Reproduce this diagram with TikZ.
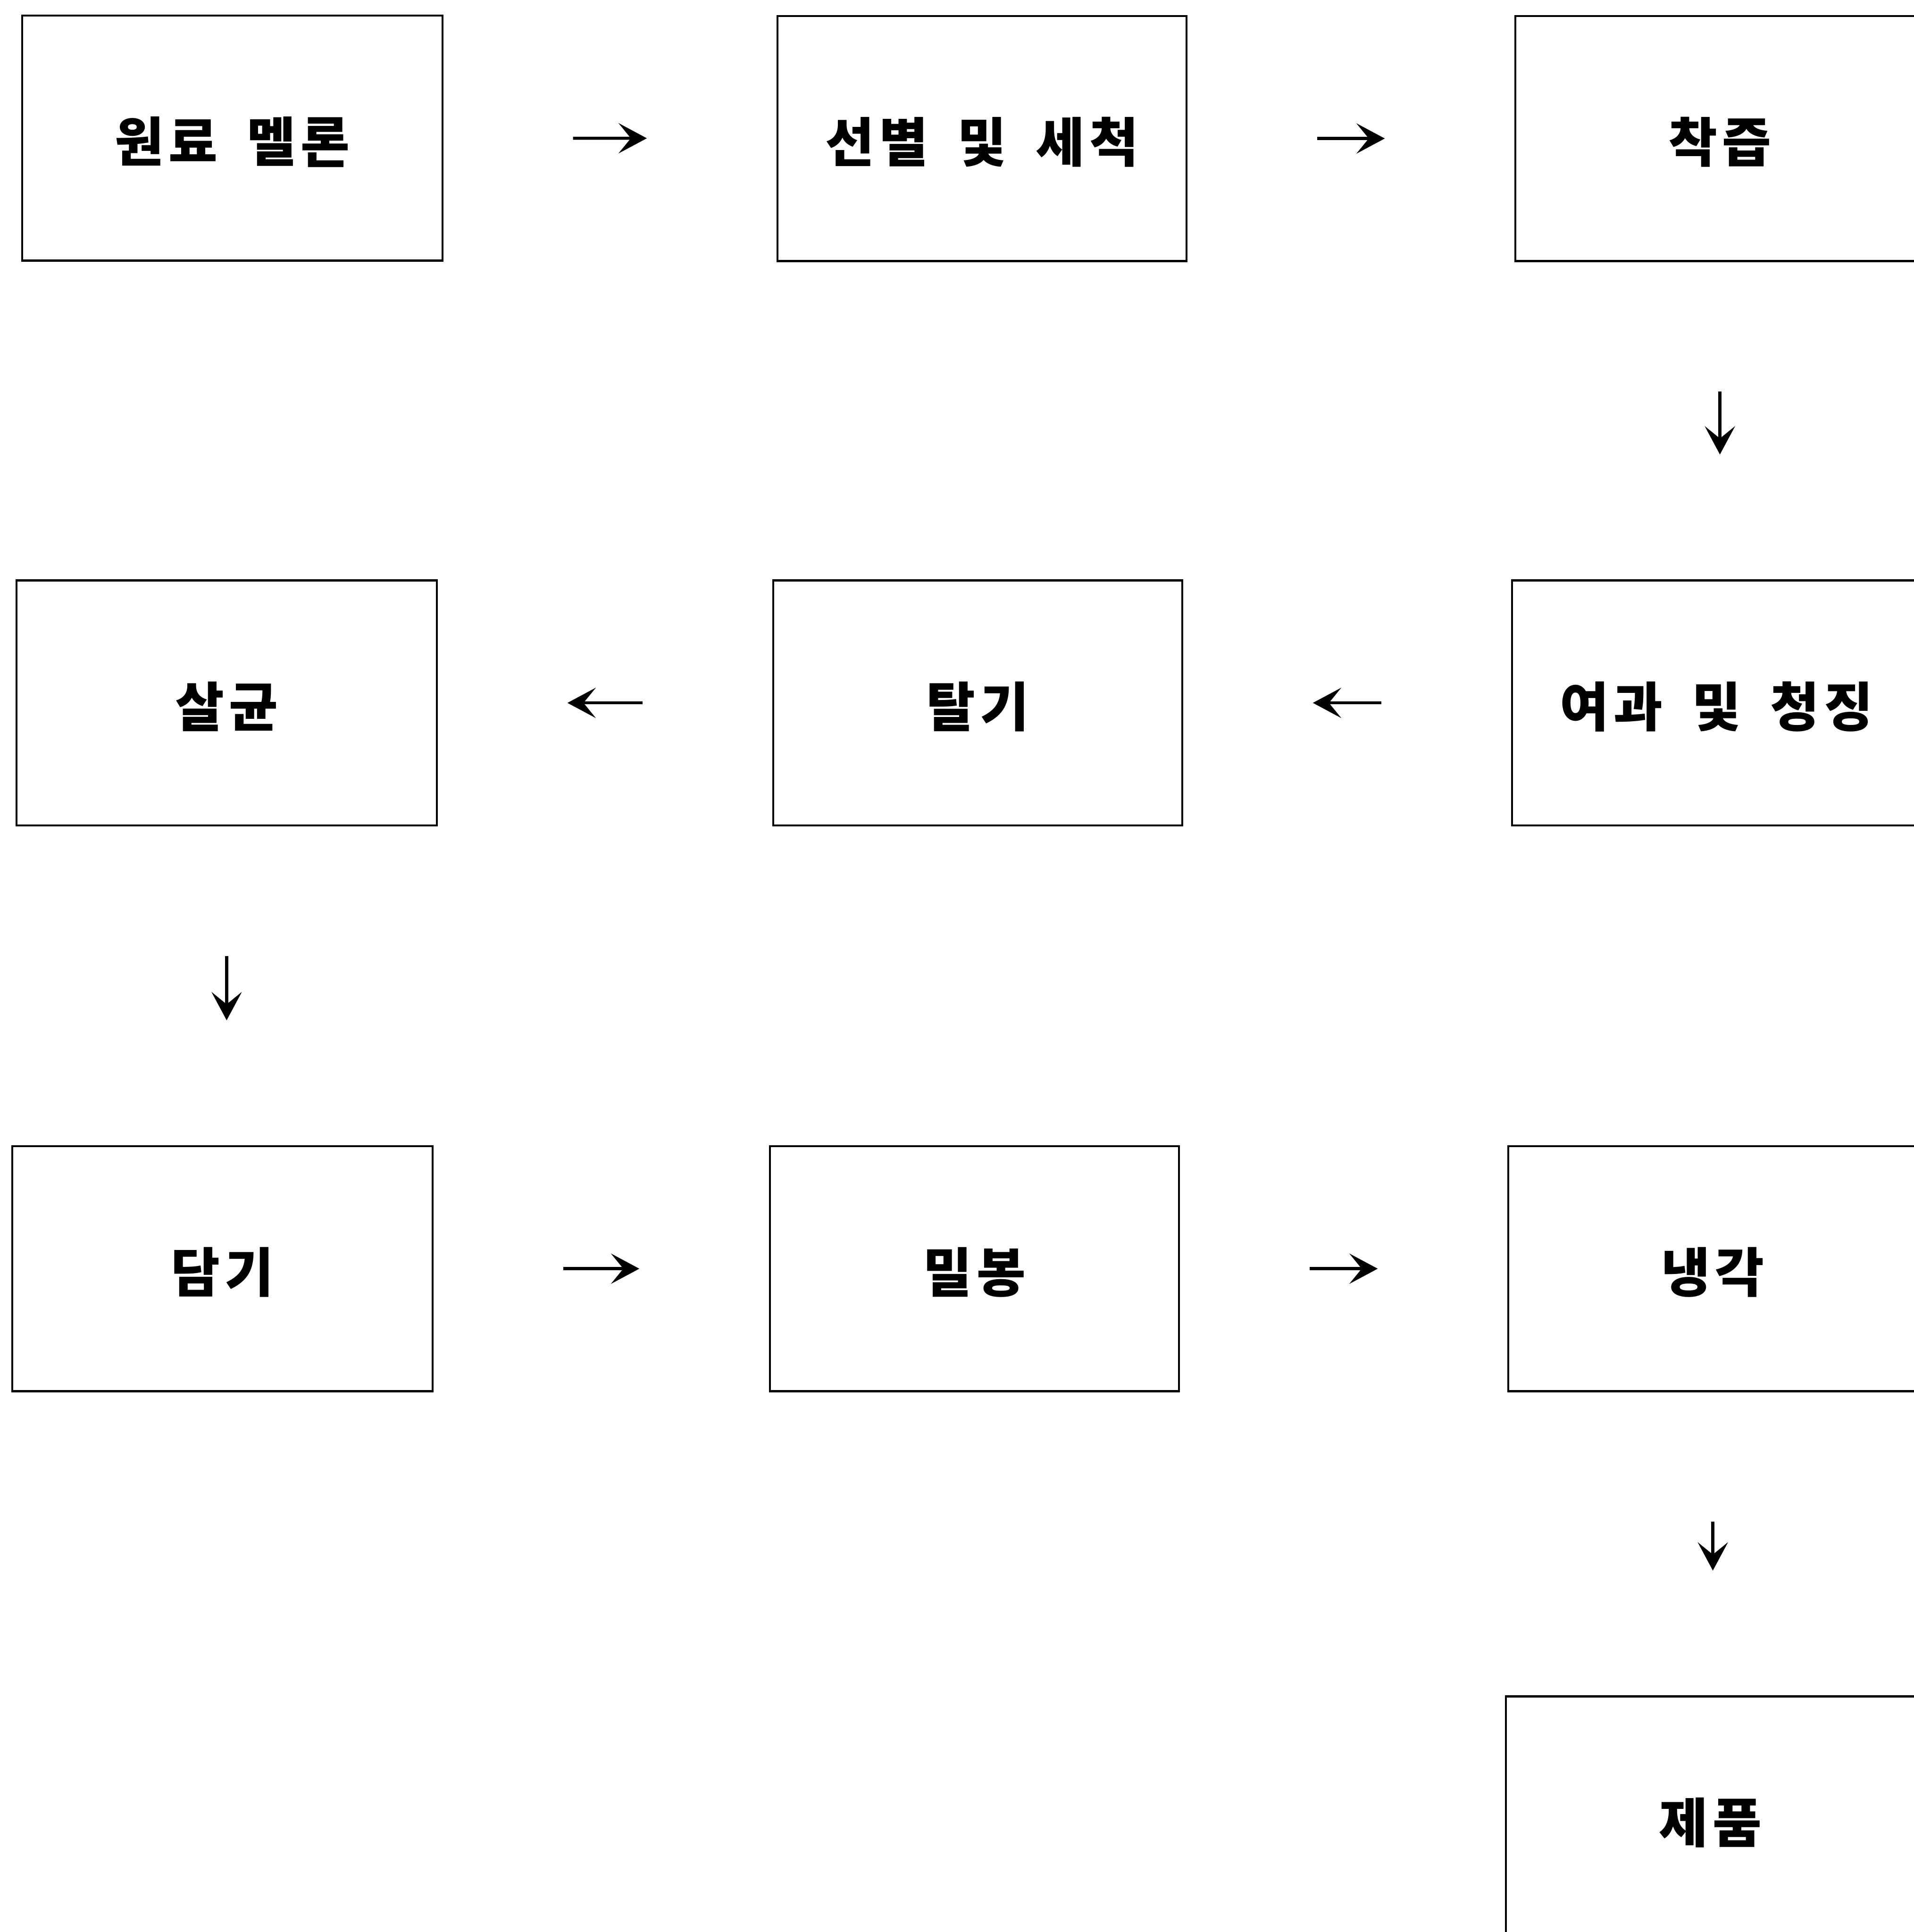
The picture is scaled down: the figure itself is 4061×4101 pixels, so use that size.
\documentclass[tikz,border=0pt]{standalone}
\usepackage{fontspec}
\newfontfamily\kr[LetterSpace=9]{Noto Sans CJK KR}
\usetikzlibrary{arrows.meta}
\newcommand\wsp{\hspace{0.55em}}
\begin{document}
\begin{tikzpicture}[x=0.1pt,y=-0.1pt,
  proc/.style={draw, line width=0.45pt, inner sep=0pt, minimum width=86.8pt, minimum height=52pt,
    text height=1.12em, text depth=0.12em,
    font=\kr\bfseries\fontsize{11.3pt}{13pt}\selectfont},
  wide/.style={minimum width=89.2pt},
  tipa/.style={-{Stealth[length=6pt,width=6.4pt,inset=2.6pt]}, line width=0.65pt},
  harr/.style={tipa, shorten <=27.5pt, shorten >=27.5pt, yshift=-0.6pt},
  varr/.style={tipa, shorten <=27.5pt, shorten >=26.5pt}
]
\useasboundingbox (0,0) rectangle (4061,4101);
% row 1
\node[proc, wide] (b1) at (493,293) {원료\wsp 멜론};
\node[proc] (b2) at (2084,294) {선별\wsp 및\wsp 세척};
\node[proc] (b3) at (3650,294) {착즙};
% row 2
\node[proc, wide] (b4) at (481,1492) {살균};
\node[proc] (b5) at (2075,1492) {탈기};
\node[proc] (b6) at (3643,1492) {여과\wsp 및\wsp 청징};
% row 3
\node[proc, wide] (b7) at (472,2693) {담기};
\node[proc] (b8) at (2068,2693) {밀봉};
\node[proc] (b9) at (3635,2693) {냉각};
% row 4
\node[proc] (b10) at (3630,3861) {제품};
% connectors
\draw[harr] (b1) -- (b2);
\draw[harr] (b2) -- (b3);
\draw[varr] (b3.south) -- (b3.south |- b6.north);
\draw[harr] (b6) -- (b5);
\draw[harr] (b5) -- (b4);
\draw[varr] (b4.south) -- (b4.south |- b7.north);
\draw[harr] (b7) -- (b8);
\draw[harr] (b8) -- (b9);
\draw[varr] (b9.south) -- (b9.south |- b10.north);
\end{tikzpicture}
\end{document}
